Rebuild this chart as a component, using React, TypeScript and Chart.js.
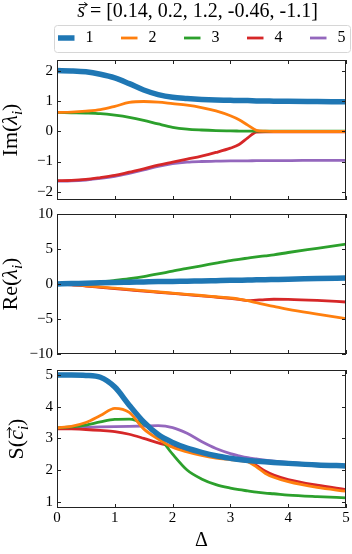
import React, { useEffect, useRef } from 'react';
import { Chart, registerables } from 'chart.js';

Chart.register(...registerables);

const FONT = "'Liberation Serif', 'Times New Roman', serif";

// ---- data ----
const DELTA = [0, 0.25, 0.5, 0.75, 1, 1.25, 1.5, 1.75, 2, 2.25, 2.5, 2.75, 3, 3.15, 3.3, 3.45, 3.6, 3.75, 4, 4.5, 5];
const LABELS = ['1', '2', '3', '4', '5'];
const S_VEC = [0.14, 0.2, 1.2, -0.46, -1.1];

const IM_1 = [2.0, 1.99, 1.96, 1.88, 1.76, 1.57, 1.36, 1.21, 1.12, 1.08, 1.05, 1.03, 1.02, 1.01, 1.01, 1.0, 1.0, 0.99, 0.99, 0.98, 0.97];
const IM_2 = [0.62, 0.63, 0.66, 0.71, 0.82, 0.95, 0.98, 0.96, 0.91, 0.86, 0.78, 0.67, 0.51, 0.38, 0.2, 0.03, 0.0, -0.01, -0.01, -0.01, -0.01];
const IM_3 = [0.62, 0.61, 0.6, 0.58, 0.53, 0.46, 0.36, 0.24, 0.13, 0.07, 0.04, 0.02, 0.01, 0.005, 0.0, 0.0, 0.0, 0.0, 0.0, 0.0, 0.0];
const IM_4 = [-1.63, -1.62, -1.59, -1.53, -1.46, -1.35, -1.24, -1.12, -1.02, -0.92, -0.82, -0.7, -0.56, -0.44, -0.22, -0.03, -0.02, -0.02, -0.02, -0.02, -0.02];
const IM_5 = [-1.65, -1.64, -1.61, -1.56, -1.49, -1.39, -1.28, -1.16, -1.07, -1.02, -1.0, -0.99, -0.98, -0.98, -0.98, -0.97, -0.97, -0.97, -0.97, -0.96, -0.96];

const RE_1 = [0, 0.06, 0.11, 0.17, 0.22, 0.26, 0.3, 0.34, 0.37, 0.41, 0.44, 0.48, 0.52, 0.54, 0.56, 0.59, 0.61, 0.64, 0.69, 0.77, 0.86];
const RE_2 = [0, -0.1, -0.25, -0.42, -0.6, -0.78, -0.96, -1.13, -1.3, -1.47, -1.64, -1.82, -2.0, -2.15, -2.38, -2.68, -2.95, -3.2, -3.62, -4.3, -4.95];
const RE_3 = [0, 0.04, 0.13, 0.28, 0.5, 0.75, 1.05, 1.43, 1.85, 2.23, 2.6, 2.98, 3.35, 3.53, 3.7, 3.87, 4.02, 4.17, 4.5, 5.1, 5.7];
const RE_4 = [0, -0.12, -0.29, -0.47, -0.65, -0.83, -1.01, -1.18, -1.35, -1.52, -1.69, -1.87, -2.05, -2.2, -2.38, -2.3, -2.22, -2.18, -2.2, -2.35, -2.57];
const RE_5 = [0, 0.04, 0.08, 0.13, 0.17, 0.21, 0.25, 0.29, 0.32, 0.36, 0.39, 0.43, 0.47, 0.49, 0.51, 0.54, 0.56, 0.59, 0.64, 0.72, 0.8];

const S_1 = [5.0, 5.0, 4.99, 4.93, 4.62, 4.05, 3.52, 3.12, 2.87, 2.69, 2.56, 2.45, 2.37, 2.33, 2.3, 2.28, 2.26, 2.24, 2.21, 2.16, 2.13];
const S_2 = [3.33, 3.38, 3.5, 3.72, 3.95, 3.82, 3.3, 2.98, 2.72, 2.57, 2.46, 2.38, 2.33, 2.3, 2.26, 2.1, 1.9, 1.77, 1.63, 1.45, 1.33];
const S_3 = [3.33, 3.36, 3.42, 3.52, 3.6, 3.61, 3.45, 3.08, 2.5, 2.0, 1.72, 1.54, 1.43, 1.38, 1.34, 1.3, 1.27, 1.25, 1.21, 1.16, 1.12];
const S_4 = [3.3, 3.3, 3.28, 3.25, 3.21, 3.13, 3.0, 2.86, 2.74, 2.61, 2.5, 2.42, 2.36, 2.32, 2.28, 2.14, 1.97, 1.84, 1.7, 1.52, 1.38];
const S_5 = [3.33, 3.34, 3.35, 3.36, 3.37, 3.38, 3.39, 3.4, 3.34, 3.16, 2.9, 2.68, 2.52, 2.45, 2.39, 2.35, 2.31, 2.28, 2.24, 2.18, 2.15];

const X_TICKS = [0, 1, 2, 3, 4, 5];
const IM_TICKS = [-2, -1, 0, 1, 2];
const RE_TICKS = [-10, -5, 0, 5, 10];
const S_TICKS = [1, 2, 3, 4, 5];

const IM_RANGE = [-2.27, 2.35];
const RE_RANGE = [-10, 10];
const S_RANGE = [0.8, 5.16];

// ---- styles ----
const COLORS = ['#1f77b4', '#ff7f0e', '#2ca02c', '#d62728', '#9467bd'];
const WIDTHS = [5.5, 2.8, 2.8, 2.8, 2.8];
const AXIS_W = 57;

const fmt = (v: number) => (v < 0 ? '\u2212' + Math.abs(v) : String(v));

type Seg = { t: string; it?: boolean; sub?: boolean; vec?: boolean };

function drawRich(ctx: CanvasRenderingContext2D, segs: Seg[], size: number, x: number, y: number, rotate: boolean) {
  ctx.save();
  ctx.translate(x, y);
  if (rotate) ctx.rotate(-Math.PI / 2);
  ctx.fillStyle = '#000';
  ctx.strokeStyle = '#000';
  ctx.textBaseline = 'alphabetic';
  ctx.textAlign = 'left';
  const fontOf = (s: Seg) => `${s.it ? 'italic ' : ''}${s.sub ? Math.round(size * 0.7) : size}px ${FONT}`;
  const widths = segs.map((s) => {
    ctx.font = fontOf(s);
    return ctx.measureText(s.t).width;
  });
  const total = widths.reduce((a, b) => a + b, 0);
  let cx = -total / 2;
  segs.forEach((s, i) => {
    ctx.font = fontOf(s);
    const dy = s.sub ? size * 0.22 : 0;
    ctx.fillText(s.t, cx, dy);
    if (s.vec) {
      const ay = -size * 0.62;
      const x0 = cx + size * 0.08;
      const x1 = cx + widths[i] + size * 0.12;
      ctx.lineWidth = 1;
      ctx.beginPath();
      ctx.moveTo(x0, ay);
      ctx.lineTo(x1, ay);
      ctx.moveTo(x1 - 3, ay - 2.2);
      ctx.lineTo(x1, ay);
      ctx.lineTo(x1 - 3, ay + 2.2);
      ctx.stroke();
    }
    cx += widths[i];
  });
  ctx.restore();
}

function datasets(series: number[][]) {
  return series.map((ys, i) => ({
    label: LABELS[i],
    data: DELTA.map((x, j) => ({ x, y: ys[j] })),
    borderColor: COLORS[i],
    backgroundColor: COLORS[i],
    borderWidth: WIDTHS[i],
    pointRadius: 0,
    pointHoverRadius: 0,
    cubicInterpolationMode: 'monotone',
    fill: false,
    borderCapStyle: 'butt',
    borderJoinStyle: 'round',
  }));
}

function yScale(range: number[], ticks: number[]) {
  return {
    type: 'linear',
    min: range[0],
    max: range[1],
    afterBuildTicks: (s: any) => {
      s.ticks = ticks.map((value) => ({ value }));
    },
    afterFit: (s: any) => {
      s.width = AXIS_W;
      s.paddingTop = 0;
      s.paddingBottom = 0;
    },
    grid: { display: false, drawTicks: false },
    border: { display: false },
    ticks: {
      padding: 4,
      font: { size: 15, family: FONT },
      color: '#000',
      callback: (v: any) => fmt(Number(v)),
    },
  };
}

// inward ticks on all four sides, frame, and rich y-axis label
function framePlugin(yTicks: number[], label: Seg[], baseX: number) {
  return {
    id: 'frameTicks',
    afterDatasetsDraw(chart: any) {
      const { ctx, chartArea: a, scales } = chart;
      const xs = scales.x;
      const ys = scales.y;
      ctx.save();
      ctx.strokeStyle = '#222';
      ctx.lineWidth = 1;
      ctx.beginPath();
      for (const v of X_TICKS) {
        const px = Math.round(xs.getPixelForValue(v)) + 0.5;
        ctx.moveTo(px, a.bottom);
        ctx.lineTo(px, a.bottom - 4);
        ctx.moveTo(px, a.top);
        ctx.lineTo(px, a.top + 4);
      }
      for (const v of yTicks) {
        const py = Math.round(ys.getPixelForValue(v)) + 0.5;
        ctx.moveTo(a.left, py);
        ctx.lineTo(a.left + 4, py);
        ctx.moveTo(a.right, py);
        ctx.lineTo(a.right - 4, py);
      }
      ctx.stroke();
      ctx.strokeRect(Math.round(a.left) + 0.5, Math.round(a.top) + 0.5, Math.round(a.right - a.left) - 1, Math.round(a.bottom - a.top) - 1);
      ctx.restore();
      drawRich(ctx, label, 22, baseX, (a.top + a.bottom) / 2, true);
    },
  };
}

const legendShiftPlugin = {
  id: 'legendShift',
  afterLayout(chart: any) {
    const lg = chart.legend;
    if (!lg) return;
    const a = chart.chartArea;
    // centre the (full-width) legend row on the plot area
    const shift = (a.left + a.right) / 2 - (lg.left + lg.right) / 2;
    lg.left += shift;
    lg.right += shift;
  },
  afterDraw(chart: any) {
    const lg = chart.legend;
    const ctx = chart.ctx;
    if (lg && lg.legendHitBoxes && lg.legendHitBoxes.length) {
      const hb = lg.legendHitBoxes;
      const first = hb[0];
      const last = hb[hb.length - 1];
      const cy = first.top + first.height / 2;
      const left = Math.round(first.left - 4) + 0.5;
      const right = Math.round(last.left + last.width + 4) + 0.5;
      const top = Math.round(cy - 13) + 0.5;
      const bottom = Math.round(cy + 14) + 0.5;
      ctx.save();
      ctx.strokeStyle = '#d6d6d6';
      ctx.lineWidth = 1;
      ctx.beginPath();
      if ((ctx as any).roundRect) (ctx as any).roundRect(left, top, right - left, bottom - top, 3);
      else ctx.rect(left, top, right - left, bottom - top);
      ctx.stroke();
      ctx.restore();
    }
    // figure title  s⃗ = [ ... ]
    const a = chart.chartArea;
    const rest = ' = [' + S_VEC.map((v) => String(v)).join(', ') + ']';
    drawRich(ctx, [{ t: 's', it: true, vec: true }, { t: rest }], 20, (a.left + a.right) / 2 - 4, 17, false);
  },
};

const noPlugins = {
  legend: { display: false },
  title: { display: false },
  tooltip: { enabled: false },
};

export default function App() {
  const r1 = useRef<HTMLCanvasElement>(null);
  const r2 = useRef<HTMLCanvasElement>(null);
  const r3 = useRef<HTMLCanvasElement>(null);

  useEffect(() => {
    Chart.defaults.font.family = FONT;
    Chart.defaults.color = '#000';

    const swatches = COLORS.map((c, i) => {
      const cv = document.createElement('canvas');
      cv.width = 20;
      cv.height = 8;
      const g = cv.getContext('2d')!;
      g.strokeStyle = c;
      g.lineWidth = WIDTHS[i];
      g.beginPath();
      g.moveTo(0, 4);
      g.lineTo(17, 4);
      g.stroke();
      return cv;
    });

    const common = {
      responsive: false,
      maintainAspectRatio: false,
      animation: false,
      devicePixelRatio: 1,
      events: [],
    };

    const c1 = new Chart(r1.current!, {
      type: 'line',
      data: { datasets: datasets([IM_1, IM_2, IM_3, IM_4, IM_5]) as any },
      options: {
        ...common,
        layout: { padding: { top: 3, bottom: 4, left: 0, right: 6 } },
        scales: {
          x: {
            type: 'linear',
            position: 'top',
            min: 0,
            max: 5,
            ticks: { display: false },
            grid: { display: false, drawTicks: false },
            border: { display: false },
            afterFit: (s: any) => {
              s.height = 4;
              s.paddingLeft = 0;
              s.paddingRight = 0;
            },
          },
          y: yScale(IM_RANGE, IM_TICKS),
        },
        plugins: {
          tooltip: { enabled: false },
          title: { display: false },
          legend: {
            display: true,
            position: 'top',
            fullSize: true,
            align: 'center',
            labels: {
              usePointStyle: true,
              pointStyleWidth: 20,
              padding: 27,
              color: '#000',
              font: { size: 16, family: FONT },
              generateLabels: () =>
                LABELS.map((t, i) => ({
                  text: t,
                  fillStyle: COLORS[i],
                  strokeStyle: COLORS[i],
                  lineWidth: 0,
                  pointStyle: swatches[i],
                  hidden: false,
                  datasetIndex: i,
                  fontColor: '#000',
                })),
            },
          },
        },
      } as any,
      plugins: [
        framePlugin(IM_TICKS, [{ t: 'Im(' }, { t: '\u03BB', it: true }, { t: 'i', it: true, sub: true }, { t: ')' }], 17),
        legendShiftPlugin,
      ],
    });

    const c2 = new Chart(r2.current!, {
      type: 'line',
      data: { datasets: datasets([RE_1, RE_2, RE_3, RE_4, RE_5]) as any },
      options: {
        ...common,
        layout: { padding: { top: 10, bottom: 4, left: 0, right: 6 } },
        scales: {
          x: { type: 'linear', min: 0, max: 5, display: false },
          y: yScale(RE_RANGE, RE_TICKS),
        },
        plugins: noPlugins,
      } as any,
      plugins: [framePlugin(RE_TICKS, [{ t: 'Re(' }, { t: '\u03BB', it: true }, { t: 'i', it: true, sub: true }, { t: ')' }], 17)],
    });

    const c3 = new Chart(r3.current!, {
      type: 'line',
      data: { datasets: datasets([S_1, S_2, S_3, S_4, S_5]) as any },
      options: {
        ...common,
        layout: { padding: { top: 12, bottom: 0, left: 0, right: 6 } },
        scales: {
          x: {
            type: 'linear',
            position: 'bottom',
            min: 0,
            max: 5,
            afterBuildTicks: (s: any) => {
              s.ticks = X_TICKS.map((value) => ({ value }));
            },
            afterFit: (s: any) => {
              s.height = 46;
              s.paddingLeft = 0;
              s.paddingRight = 0;
            },
            grid: { display: false, drawTicks: false },
            border: { display: false },
            ticks: {
              padding: 1,
              maxRotation: 0,
              autoSkip: false,
              color: '#000',
              font: { size: 15, family: FONT },
              callback: (v: any) => fmt(Number(v)),
            },
            title: {
              display: true,
              text: '\u0394',
              color: '#000',
              font: { size: 20, family: FONT, lineHeight: 1.2 },
              padding: { top: 0, bottom: 1 },
            },
          },
          y: yScale(S_RANGE, S_TICKS),
        },
        plugins: noPlugins,
      } as any,
      plugins: [framePlugin(S_TICKS, [{ t: 'S(' }, { t: 'c', it: true, vec: true }, { t: 'i', it: true, sub: true }, { t: ')' }], 23)],
    });

    return () => {
      c1.destroy();
      c2.destroy();
      c3.destroy();
    };
  }, []);

  return (
    <div style={{ position: 'absolute', left: 0, top: 0, width: 352, height: 554, background: '#fff' }}>
      <canvas ref={r1} width={352} height={204} style={{ position: 'absolute', left: 0, top: 0 }} />
      <canvas ref={r2} width={352} height={154} style={{ position: 'absolute', left: 0, top: 204 }} />
      <canvas ref={r3} width={352} height={196} style={{ position: 'absolute', left: 0, top: 358 }} />
    </div>
  );
}
